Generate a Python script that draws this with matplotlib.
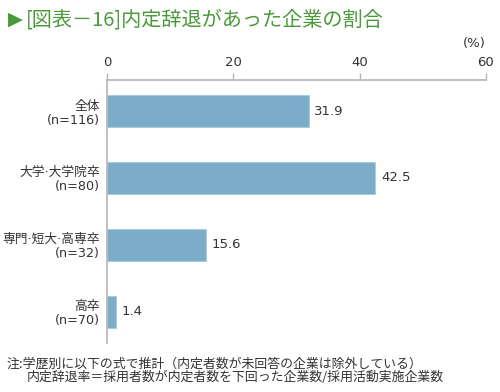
import matplotlib.pyplot as plt
import numpy as np

plt.rcParams['font.family'] = ['Noto Sans CJK JP', 'DejaVu Sans']

categories = ["全体\n(n=116)", "大学·大学院卒\n(n=80)", "専門·短大·高専卒\n(n=32)", "高卒\n(n=70)"]
values = [31.9, 42.5, 15.6, 1.4]
xticks = [0, 20, 40, 60]

latin = ["DejaVu Sans", "Noto Sans CJK JP"]

fig = plt.figure(figsize=(5, 3.92), dpi=100)
ax = fig.add_axes([0.214, 0.125, 0.758, 0.671])

y = np.arange(len(values))
ax.barh(y, values, height=0.48, color="#7badc9", edgecolor="#a9cbe0", linewidth=0.8)
for yi, v in zip(y, values):
    ax.text(v + 0.9, yi, f"{v:.1f}", va="center", ha="left", fontsize=9.5,
            color="#333333", family=latin)

ax.set_xlim(0, 60)
ax.set_ylim(3.47, -0.465)
ax.xaxis.tick_top()
ax.set_xticks(xticks)
ax.set_xticklabels([str(t) for t in xticks], family=latin)
ax.tick_params(axis="x", direction="out", length=5, width=1, color="#b5b5b5",
               labelsize=9.5, labelcolor="#333333", pad=3)
ax.set_yticks(y)
ax.set_yticklabels(categories, fontsize=9.2, color="#333333", linespacing=1.1, family=latin)
ax.tick_params(axis="y", length=0, pad=5)
for s in ["right", "bottom"]:
    ax.spines[s].set_visible(False)
for s in ["top", "left"]:
    ax.spines[s].set_color("#b5b5b5")
    ax.spines[s].set_linewidth(1.2)

fig.text(0.972, 0.89, "(%)", ha="right", va="center", fontsize=9.5, color="#333333",
         family=latin)
fig.text(0.016, 0.95, "▶", ha="left", va="center", fontsize=14, color="#4a9a3a",
         family=["DejaVu Sans"])
fig.text(0.052, 0.95, "[図表－16]内定辞退があった企業の割合", ha="left", va="center",
         fontsize=14.5, color="#4a9a3a")
fig.text(0.014, 0.072, "注:学歴別に以下の式で推計（内定者数が未回答の企業は除外している）",
         ha="left", va="center", fontsize=9.3, color="#333333")
fig.text(0.054, 0.037, "内定辞退率＝採用者数が内定者数を下回った企業数/採用活動実施企業数",
         ha="left", va="center", fontsize=9.3, color="#333333")

fig.savefig("out.png", dpi=100)
